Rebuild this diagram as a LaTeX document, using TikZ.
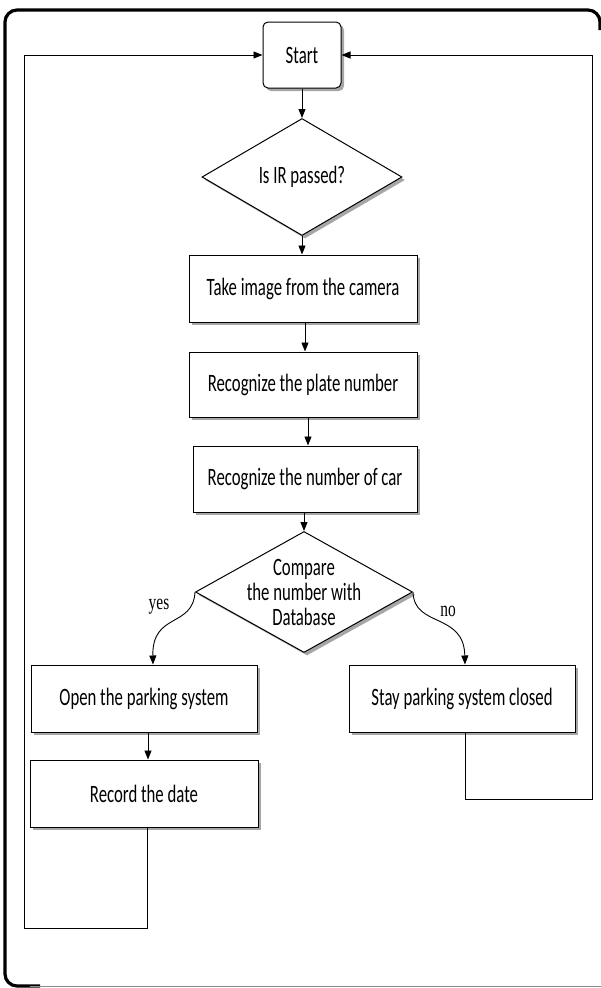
\documentclass[tikz,border=0pt]{standalone}
\usepackage{fontspec}
\newfontfamily\cf{Carlito}[FakeStretch=0.67]
\newfontfamily\lblf{Liberation Serif}[FakeStretch=0.7]
\usetikzlibrary{shapes.geometric,arrows.meta,shadows}
\begin{document}
\begin{tikzpicture}[x=1pt,y=-1pt,
  shad/.style={drop shadow={shadow xshift=3pt,shadow yshift=-3pt,fill=black!50,opacity=0.7}},
  box/.style={draw,line width=1pt,fill=white,shad,inner sep=0pt,
    font=\cf\fontsize{25}{28}\selectfont},
  dia/.style={draw,line width=1pt,fill=white,shad,diamond,inner sep=0pt},
  diatext/.style={align=center,inner sep=0pt,font=\cf\fontsize{25}{25}\selectfont},
  arr/.style={line width=0.9pt,-{Triangle[length=9pt,width=7pt]}},
  lbl/.style={font=\lblf\fontsize{22}{22}\selectfont}]
\useasboundingbox (0,0) rectangle (601,988);
% outer frame
\draw[line width=3.2pt,rounded corners=12pt] (600,30) -- (600,10) -- (5,10) -- (5,986) -- (40,986);
\draw[black!45,line width=1.2pt] (30,986.5) -- (601,986.5);
% nodes
\node[box,rounded corners=5pt,minimum width=78pt,minimum height=66pt] (start) at (302,55) {Start};
\node[dia,minimum width=200pt,minimum height=117pt] (d1) at (302,177) {};
\node[diatext] (d1t) at (302,177) {Is IR passed?};
\node[box,minimum width=228pt,minimum height=67pt] (b1) at (303,288.5) {Take image from the camera};
\node[box,minimum width=228pt,minimum height=65pt] (b2) at (303,384.5) {Recognize the plate number};
\node[box,minimum width=224pt,minimum height=66pt] (b3) at (305,479) {Recognize the number of car};
\node[dia,minimum width=217pt,minimum height=121pt] (d2) at (304,592) {};
\node[diatext] (d2t) at (304,592) {Compare\\the number with\\Database};
\node[box,minimum width=226pt,minimum height=67pt] (open) at (144,698.5) {Open the parking system};
\node[box,minimum width=226pt,minimum height=67pt] (stay) at (462,698.5) {Stay parking system closed};
\node[box,minimum width=228pt,minimum height=67pt] (rec) at (144,793.5) {Record the date};
\node[lbl] (yes) at (159,607) {yes};
\node[lbl] (no) at (448,611) {no};
% connectors
\coordinate (x12) at (305,0);
\coordinate (x23) at (308,0);
\coordinate (x4) at (148,0);
\draw[arr] (start.south) -- (d1.north);
\draw[arr] (d1.south) -- (d1.south |- b1.north);
\draw[arr] (b1.south -| x12) -- (b2.north -| x12);
\draw[arr] (b2.south -| x23) -- (b3.north -| x23);
\draw[arr] (b3.south -| d2.north) -- (d2.north);
\draw[arr] (d2.west) .. controls (193,628) and (152,612) .. (open.north -| 153,0);
\draw[arr] (d2.east) .. controls (414,628) and (464,612) .. (stay.north -| 465,0);
\draw[arr] (open.south -| x4) -- (rec.north -| x4);
\coordinate (l1) at (147,928);
\coordinate (l2) at (24,928);
\draw[arr] (rec.south -| l1) -- (l1) -- (l2) -- (l2 |- start.west) -- (start.west);
\coordinate (r1) at (465,799);
\coordinate (r2) at (592,799);
\draw[arr] (stay.south -| r1) -- (r1) -- (r2) -- (r2 |- start.east) -- (start.east);
\end{tikzpicture}
\end{document}
